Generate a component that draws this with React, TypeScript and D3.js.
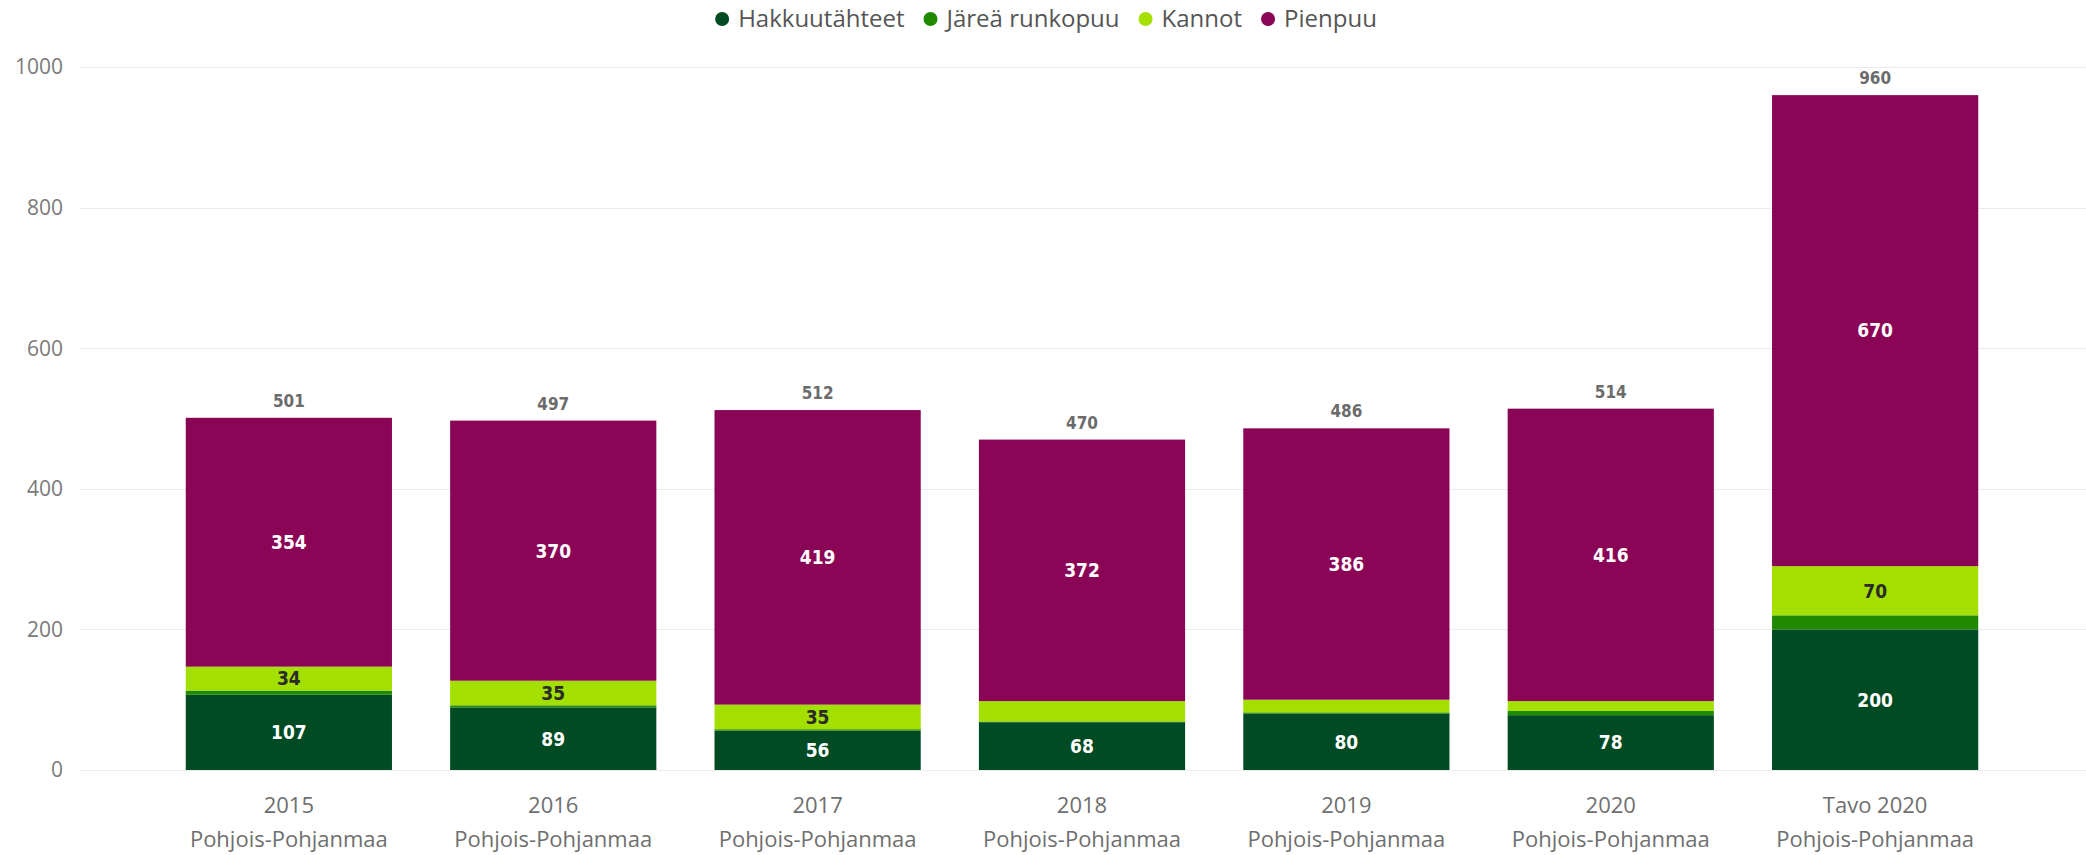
import React, { useEffect, useRef } from "react";
import * as d3 from "d3";

const categories = ["2015", "2016", "2017", "2018", "2019", "2020", "Tavo 2020"];
const region = "Pohjois-Pohjanmaa";
const seriesNames = ["Hakkuutähteet", "Järeä runkopuu", "Kannot", "Pienpuu"];
const hakkuutahteet = [107, 89, 56, 68, 80, 78, 200];
const jareaRunkopuu = [6, 3, 2, 1, 2, 6, 20];
const kannot = [34, 35, 35, 29, 18, 14, 70];
const pienpuu = [354, 370, 419, 372, 386, 416, 670];
const yTicks = [0, 200, 400, 600, 800, 1000];

const colors = ["#004B23", "#1F8A00", "#A3E000", "#8A0555"];
const labelColors = ["#ffffff", "#ffffff", "#2b2b2b", "#ffffff"];

const W = 2086;
const H = 855;

export default function App() {
  const ref = useRef<SVGSVGElement>(null);

  useEffect(() => {
    const svg = d3.select(ref.current);
    svg.selectAll("*").remove();

    const seriesValues = [hakkuutahteet, jareaRunkopuu, kannot, pienpuu];
    const rows = categories.map((c, i) => {
      const r: any = { cat: c };
      seriesNames.forEach((s, k) => (r[s] = seriesValues[k][i]));
      return r;
    });
    const stacked = d3.stack().keys(seriesNames)(rows);

    const y = d3.scaleLinear().domain([0, 1000]).range([770, 67]);
    const x = d3
      .scaleBand()
      .domain(categories)
      .range([80, 2084])
      .paddingInner(0.22)
      .paddingOuter(0.4);

    // gridlines
    svg
      .append("g")
      .selectAll("line")
      .data(yTicks)
      .join("line")
      .attr("x1", 80)
      .attr("x2", W)
      .attr("y1", (d) => Math.round(y(d)) + 0.5)
      .attr("y2", (d) => Math.round(y(d)) + 0.5)
      .attr("stroke", "#ececec")
      .attr("stroke-width", 1);

    // y labels
    svg
      .append("g")
      .selectAll("text")
      .data(yTicks)
      .join("text")
      .attr("x", 63)
      .attr("y", (d) => y(d))
      .attr("dy", "0.35em")
      .attr("text-anchor", "end")
      .attr("font-family", "'Open Sans', 'Noto Sans', sans-serif")
      .attr("font-size", 21)
      .attr("fill", "#7a7a7a")
      .text((d) => String(d));

    // bars
    stacked.forEach((layer, k) => {
      const g = svg.append("g");
      g.selectAll("rect")
        .data(layer)
        .join("rect")
        .attr("x", (d: any) => x(d.data.cat)!)
        .attr("width", x.bandwidth())
        .attr("y", (d: any) => y(d[1]))
        .attr("height", (d: any) => y(d[0]) - y(d[1]))
        .attr("fill", colors[k]);
      g.selectAll("text")
        .data(layer.filter((d: any) => y(d[0]) - y(d[1]) >= 22))
        .join("text")
        .attr("x", (d: any) => x(d.data.cat)! + x.bandwidth() / 2)
        .attr("y", (d: any) => (y(d[0]) + y(d[1])) / 2)
        .attr("dy", "0.36em")
        .attr("text-anchor", "middle")
        .attr("font-family", "'DejaVu Sans Condensed', 'DejaVu Sans', sans-serif")
        .attr("font-weight", "bold")
        .attr("font-size", 19)
        .attr("fill", labelColors[k])
        .text((d: any) => String(d[1] - d[0]));
    });

    // totals
    const top = stacked[stacked.length - 1];
    svg
      .append("g")
      .selectAll("text")
      .data(top)
      .join("text")
      .attr("x", (d: any) => x(d.data.cat)! + x.bandwidth() / 2)
      .attr("y", (d: any) => y(d[1]) - 11)
      .attr("text-anchor", "middle")
      .attr("font-family", "'DejaVu Sans Condensed', 'DejaVu Sans', sans-serif")
      .attr("font-weight", "bold")
      .attr("font-size", 17)
      .attr("fill", "#6b6b6b")
      .text((d: any) => String(d[1]));

    // x labels
    const xl = svg
      .append("g")
      .selectAll("text")
      .data(categories)
      .join("text")
      .attr("text-anchor", "middle")
      .attr("font-family", "'Open Sans', 'Noto Sans', sans-serif")
      .attr("font-size", 22)
      .attr("fill", "#6f6f6f");
    xl.append("tspan")
      .attr("x", (d) => x(d)! + x.bandwidth() / 2)
      .attr("y", 813)
      .text((d) => d);
    xl.append("tspan")
      .attr("x", (d) => x(d)! + x.bandwidth() / 2)
      .attr("y", 847)
      .text(() => region);

    // legend
    const lg = svg.append("g");
    let cx = 0;
    const gap = 19;
    seriesNames.forEach((s, k) => {
      const item = lg.append("g").attr("transform", `translate(${cx},0)`);
      item
        .append("circle")
        .attr("cx", 7)
        .attr("cy", 19)
        .attr("r", 7)
        .attr("fill", colors[k]);
      const t = item
        .append("text")
        .attr("x", 23)
        .attr("y", 19)
        .attr("dy", "0.35em")
        .attr("font-family", "'Open Sans', 'Noto Sans', sans-serif")
        .attr("font-size", 24)
        .attr("fill", "#555")
        .text(s);
      const w = (t.node() as SVGTextElement).getComputedTextLength();
      cx += 23 + w + gap;
    });
    const total = cx - gap;
    lg.attr("transform", `translate(${1046 - total / 2},0)`);
  }, []);

  return (
    <div style={{ position: "absolute", left: 0, top: 0, width: W, height: H, background: "#fff" }}>
      <svg ref={ref} width={W} height={H} style={{ display: "block" }} />
    </div>
  );
}
